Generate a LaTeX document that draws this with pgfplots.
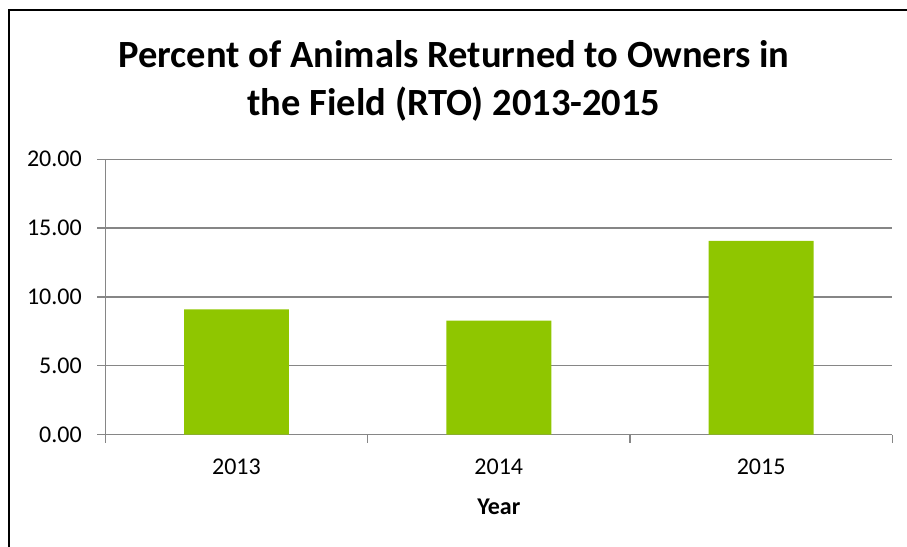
\documentclass[border=0pt]{standalone}
\usepackage{pgfplots}
\pgfplotsset{compat=1.18}
\usepackage{fontspec}
\setmainfont{Carlito}
\definecolor{barcol}{RGB}{143,198,0}
\definecolor{axgray}{RGB}{134,134,134}
\begin{document}
\begin{tikzpicture}[x=1pt,y=1pt]
\useasboundingbox (0,0) rectangle (907,546);
\draw[black,line width=1.5pt] (9,-5) -- (9,536) -- (912,536);
\node[anchor=base,font=\fontsize{38.5}{48}\selectfont\bfseries] at (454,478.3) {Percent of Animals Returned to Owners in};
\node[anchor=base,font=\fontsize{38.5}{48}\selectfont\bfseries] at (454,430) {the Field (RTO) 2013-2015};
\begin{axis}[
  at={(105.3pt,111.3pt)}, anchor=south west,
  scale only axis, width=787pt, height=275.4pt,
  xmin=-0.5, xmax=2.5, ymin=0, ymax=20,
  axis x line*=bottom, axis y line*=left,
  axis line style={axgray,line width=1.3pt,-},
  every tick/.style={axgray,line width=1.3pt},
  tick align=outside, major tick length=8pt,
  ytick={0,5,...,20},
  yticklabel style={xshift=-12pt,/pgf/number format/.cd,fixed,fixed zerofill,precision=2},
  xtick={-0.5,0.5,1.5,2.5}, xticklabels={},
  extra x ticks={0,1,2}, extra x tick labels={2013,2014,2015},
  extra x tick style={major tick length=0pt, grid=none, xticklabel style={yshift=-21pt}},
  ymajorgrids, grid style={axgray,line width=1.3pt},
  tick label style={font=\fontsize{24}{28}\selectfont, black},
  /pgf/number format/assume math mode=true,
  xlabel={Year}, xlabel style={font=\fontsize{24}{28}\selectfont\bfseries, yshift=-9pt},
  ybar, bar width=0.4,
]
\addplot[fill=barcol, draw=none] coordinates {(0,9.11) (1,8.28) (2,14.07)};
\end{axis}
\end{tikzpicture}
\end{document}
